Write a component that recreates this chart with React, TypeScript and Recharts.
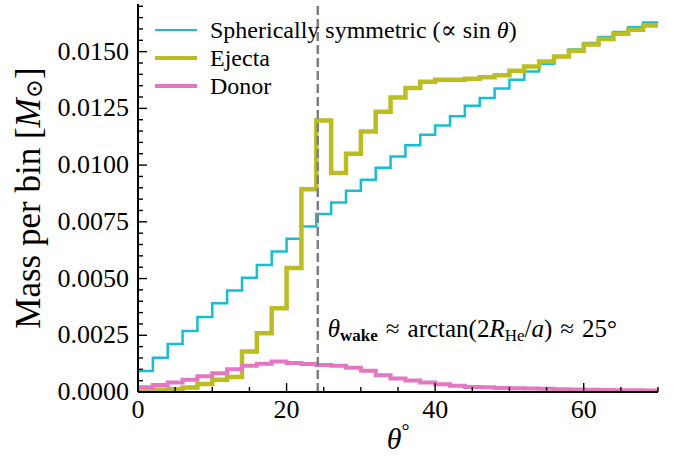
import { Legend, Line, LineChart, ReferenceLine, XAxis, YAxis } from 'recharts';

const SERIF = '"Liberation Serif", "DejaVu Serif", serif';

const CYAN = '#17becf';
const OLIVE = '#bcbd22';
const PINK = '#e377c2';

// 2-degree bins in polar angle, 0..70
const BIN_WIDTH = 2;
const binEdges = Array.from({ length: 36 }, (_, i) => i * BIN_WIDTH);

// mass per bin [Msun]
const sphericalMass = [
  0.00093, 0.00151, 0.00212, 0.00269, 0.00331, 0.00391, 0.00447, 0.00504, 0.0056, 0.00619,
  0.00675, 0.00729, 0.00784, 0.00835, 0.00887, 0.00935, 0.00988, 0.01038, 0.01087, 0.01134,
  0.01175, 0.01215, 0.01262, 0.01296, 0.01338, 0.01376, 0.01413, 0.01447, 0.01476, 0.01509,
  0.01538, 0.01565, 0.01587, 0.01607, 0.01629,
];
const ejectaMass = [
  0.00008, 0.0001, 0.00012, 0.0002, 0.00035, 0.00054, 0.00066, 0.00178, 0.00259, 0.00369,
  0.00546, 0.00894, 0.01197, 0.00965, 0.0105, 0.01148, 0.01235, 0.01298, 0.0134, 0.01367,
  0.01376, 0.01376, 0.01381, 0.01387, 0.01396, 0.01416, 0.01435, 0.01457, 0.01479, 0.01504,
  0.01531, 0.01556, 0.01579, 0.01597, 0.01615,
];
const donorMass = [
  0.00021, 0.00031, 0.00042, 0.00054, 0.00069, 0.00083, 0.001, 0.00116, 0.00124, 0.00134,
  0.00128, 0.00123, 0.00119, 0.00116, 0.00107, 0.00094, 0.00074, 0.0006, 0.00051, 0.00042,
  0.00034, 0.00027, 0.00022, 0.00021, 0.00018, 0.00016, 0.00015, 0.00014, 0.00012, 0.00011,
  0.0001, 0.00009, 0.00008, 0.00008, 0.00007,
];

const WAKE_ANGLE = 24.2;

const xTicks = [0, 5, 10, 15, 20, 25, 30, 35, 40, 45, 50, 55, 60, 65, 70];
const yTicks = Array.from({ length: 35 }, (_, i) => Math.round(i * 5) / 10000);

// stepAfter needs a closing point at the right edge of the last bin
const rows = binEdges.map((theta, i) => {
  const k = Math.min(i, sphericalMass.length - 1);
  return { theta, spherical: sphericalMass[k], ejecta: ejectaMass[k], donor: donorMass[k] };
});

const MAJOR = 9;
const MINOR = 5;
const TICK_W = 1.4;

const isMajorX = (v: number) => v % 20 === 0;

function BottomTick({ x, y, payload }: any) {
  const major = isMajorX(payload.value);
  return (
    <g>
      <line x1={x} y1={y} x2={x} y2={y - (major ? MAJOR : MINOR)} stroke="#000" strokeWidth={TICK_W} />
      {major && (
        <text x={x} y={y + 26} textAnchor="middle" fontFamily={SERIF} fontSize={26} fill="#000">
          {payload.value}
        </text>
      )}
    </g>
  );
}

function TopTick({ x, y, payload }: any) {
  const major = isMajorX(payload.value);
  return <line x1={x} y1={y} x2={x} y2={y + (major ? MAJOR : MINOR)} stroke="#000" strokeWidth={TICK_W} />;
}

function LeftTick({ x, y, payload, index }: any) {
  const major = index % 5 === 0;
  return (
    <g>
      <line x1={x} y1={y} x2={x + (major ? MAJOR : MINOR)} y2={y} stroke="#000" strokeWidth={TICK_W} />
      {major && (
        <text x={x - 9} y={y + 8} textAnchor="end" fontFamily={SERIF} fontSize={26} fill="#000">
          {payload.value.toFixed(4)}
        </text>
      )}
    </g>
  );
}

function RightTick({ x, y, index }: any) {
  const major = index % 5 === 0;
  return <line x1={x} y1={y} x2={x - (major ? MAJOR : MINOR)} y2={y} stroke="#000" strokeWidth={TICK_W} />;
}

function YLabel({ viewBox }: any) {
  const cx = 28;
  const cy = viewBox.y + viewBox.height / 2;
  return (
    <text
      x={cx}
      y={cy}
      transform={`rotate(-90, ${cx}, ${cy})`}
      textAnchor="middle"
      dominantBaseline="central"
      fontFamily={SERIF}
      fontSize={35}
      fill="#000"
    >
      Mass per bin [<tspan fontStyle="italic">M</tspan>
      <tspan fontSize={23} dy={6}>⊙</tspan>
      <tspan dy={-6}>]</tspan>
    </text>
  );
}

function XLabel({ viewBox }: any) {
  const cx = viewBox.x + viewBox.width / 2;
  return (
    <text x={cx} y={viewBox.y + 57} textAnchor="middle" fontFamily={SERIF} fontSize={30} fill="#000">
      <tspan fontStyle="italic">θ</tspan>
      <tspan fontSize={20} dy={-11}>°</tspan>
    </text>
  );
}

function WakeLabel({ viewBox }: any) {
  const x = viewBox.x + 10;
  const y = viewBox.y + viewBox.height - 55;
  return (
    <text x={x} y={y} fontFamily={SERIF} fontSize={25} fill="#000">
      <tspan fontStyle="italic">θ</tspan>
      <tspan fontSize={17} dy={4} fontWeight="bold">wake</tspan>
      <tspan dy={-4} dx={8}>≈</tspan>
      <tspan dx={8}>arctan(2</tspan>
      <tspan fontStyle="italic">R</tspan>
      <tspan fontSize={17} dy={4}>He</tspan>
      <tspan dy={-4}>/</tspan>
      <tspan fontStyle="italic">a</tspan>
      <tspan>)</tspan>
      <tspan dx={8}>≈</tspan>
      <tspan dx={8}>25°</tspan>
    </text>
  );
}

const legendItems = [
  {
    key: 'spherical',
    color: CYAN,
    width: 2.5,
    label: (
      <>
        Spherically symmetric (∝ sin <i>θ</i>)
      </>
    ),
  },
  { key: 'ejecta', color: OLIVE, width: 4.5, label: <>Ejecta</> },
  { key: 'donor', color: PINK, width: 4, label: <>Donor</> },
];

function LegendBox() {
  return (
    <div style={{ fontFamily: SERIF, fontSize: 24, color: '#000' }}>
      {legendItems.map((item) => (
        <div key={item.key} style={{ display: 'flex', alignItems: 'center', height: 28, whiteSpace: 'nowrap' }}>
          <div style={{ width: 42, height: item.width, background: item.color, marginRight: 13 }} />
          <span>{item.label}</span>
        </div>
      ))}
    </div>
  );
}

export default function App() {
  return (
    <div style={{ position: 'absolute', left: 0, top: 0, background: '#fff' }}>
      <LineChart width={678} height={457} data={rows} margin={{ top: 4, right: 20, bottom: 0, left: 0 }}>
        <XAxis
          xAxisId="b"
          dataKey="theta"
          type="number"
          domain={[0, 70]}
          ticks={xTicks}
          interval={0}
          tickSize={0}
          tickMargin={0}
          tickLine={false}
          tick={BottomTick}
          height={65}
          axisLine={{ stroke: '#000', strokeWidth: 2 }}
          label={XLabel}
        />
        <XAxis
          xAxisId="t"
          orientation="top"
          dataKey="theta"
          type="number"
          domain={[0, 70]}
          ticks={xTicks}
          interval={0}
          tickSize={0}
          tickMargin={0}
          tickLine={false}
          tick={TopTick}
          height={0}
          axisLine={{ stroke: '#000', strokeWidth: 2 }}
        />
        <YAxis
          yAxisId="l"
          type="number"
          domain={[0, 0.0171]}
          allowDataOverflow
          ticks={yTicks}
          interval={0}
          tickSize={0}
          tickMargin={0}
          tickLine={false}
          tick={LeftTick}
          width={138}
          axisLine={{ stroke: '#000', strokeWidth: 2 }}
          label={YLabel}
        />
        <YAxis
          yAxisId="r"
          orientation="right"
          type="number"
          domain={[0, 0.0171]}
          allowDataOverflow
          ticks={yTicks}
          interval={0}
          tickSize={0}
          tickMargin={0}
          tickLine={false}
          tick={RightTick}
          width={0}
          axisLine={{ stroke: '#000', strokeWidth: 2 }}
        />
        <Line
          xAxisId="b"
          yAxisId="l"
          type="stepAfter"
          dataKey="spherical"
          stroke={CYAN}
          strokeWidth={2.5}
          dot={false}
          isAnimationActive={false}
        />
        <Line
          xAxisId="b"
          yAxisId="l"
          type="stepAfter"
          dataKey="ejecta"
          stroke={OLIVE}
          strokeWidth={4.5}
          dot={false}
          isAnimationActive={false}
        />
        <Line
          xAxisId="b"
          yAxisId="l"
          type="stepAfter"
          dataKey="donor"
          stroke={PINK}
          strokeWidth={4}
          dot={false}
          isAnimationActive={false}
        />
        <ReferenceLine
          xAxisId="b"
          yAxisId="l"
          x={WAKE_ANGLE}
          stroke="#7f7f7f"
          strokeWidth={2.5}
          strokeDasharray="9 4"
          label={WakeLabel}
        />
        <Legend
          layout="horizontal"
          verticalAlign="middle"
          align="center"
          content={LegendBox}
          wrapperStyle={{ position: 'absolute', left: 155, top: 16, width: 'auto' }}
        />
      </LineChart>
    </div>
  );
}
